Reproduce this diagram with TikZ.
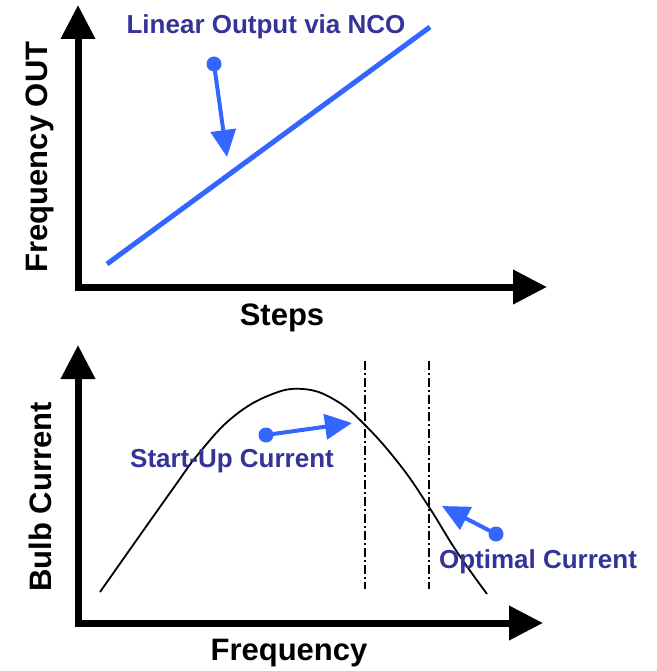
\documentclass[tikz,border=0pt]{standalone}
\usepackage{fontspec}
\setmainfont{Liberation Sans}
\usetikzlibrary{arrows.meta,positioning}
\definecolor{lblblue}{RGB}{51,51,153}
\definecolor{ptrblue}{RGB}{51,102,255}

\begin{document}
\begin{tikzpicture}[x=1pt, y=-1pt, >={Triangle[length=34pt,width=33pt]}]
\tikzstyle{axis}=[<->, line width=7pt]
\tikzstyle{axlabel}=[font=\bfseries\fontsize{31}{35}\selectfont, text=black]
\tikzstyle{note}=[font=\bfseries\fontsize{26}{30}\selectfont, text=lblblue]
\tikzstyle{dot}=[circle, fill=ptrblue, inner sep=0pt, minimum size=15pt]
\tikzstyle{ptr}=[-{Triangle[length=27pt,width=25pt]}, line width=4pt, draw=ptrblue, shorten <=-2pt]
\tikzstyle{marker}=[line width=1.5pt, dash pattern=on 9pt off 3pt on 2pt off 3pt]
\useasboundingbox (0,0) rectangle (656,671);
% upper plot
\coordinate (Y1) at (78,5);
\coordinate (O1) at (78,287);
\coordinate (X1) at (547,287);
\draw[axis] (Y1) -- (O1) -- (X1);
\node[axlabel, rotate=90] (fout) at (40,157) {Frequency OUT};
\node[axlabel] (steps) at (282,318) {Steps};
\coordinate (L0) at (107,264);
\coordinate (L1) at (430,27);
\draw[ptrblue, line width=5pt] (L0) -- (L1);
\node[note] (nco) at (266,27) {Linear Output via NCO};
\node[dot] (d1) at (214,64) {};
\coordinate (t1) at (227,157);
\draw[ptr] (d1.center) -- (t1);
% lower plot
\coordinate (Y2) at (78,345);
\coordinate (O2) at (78,623);
\coordinate (X2) at (543,623);
\draw[axis] (Y2) -- (O2) -- (X2);
\node[axlabel, rotate=90] (bulb) at (40,497) {Bulb Current};
\node[axlabel] (freq) at (289,653) {Frequency};
\draw[line width=1.8pt] plot[smooth, tension=0.7] coordinates {(100,592) (172,490) (200,452) (233,417) (270,395) (303,389) (335,400) (365,425) (400,465) (429,507) (457,552) (487,594)};
\coordinate (m1a) at (365,361);
\coordinate (m1b) at (365,589);
\coordinate (m2a) at (429,361);
\coordinate (m2b) at (429,589);
\draw[marker] (m1a) -- (m1b);
\draw[marker] (m2a) -- (m2b);
\node[note] (start) at (232,461) {Start-Up Current};
\node[dot] (d2) at (266,435) {};
\coordinate (t2) at (352,423);
\draw[ptr] (d2.center) -- (t2);
\node[note] (opt) at (538,562) {Optimal Current};
\node[dot] (d3) at (496,534) {};
\coordinate (t3) at (442,506);
\draw[ptr] (d3.center) -- (t3);
\end{tikzpicture}
\end{document}
